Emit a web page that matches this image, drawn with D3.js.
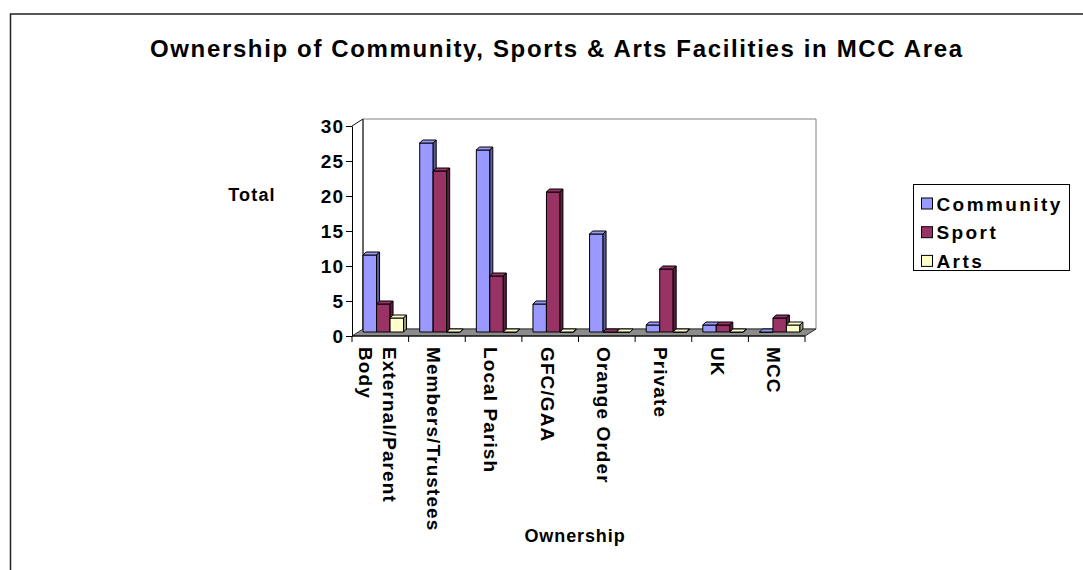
<!DOCTYPE html>
<html>
<head>
<meta charset="utf-8">
<script src="https://cdn.jsdelivr.net/npm/d3@7"></script>
<style>
  body { margin: 0; background: #fff; }
  text { font-family: "Liberation Sans", Arial, sans-serif; font-weight: bold; fill: #000; }
</style>
</head>
<body>
<svg class="js-render-chart" width="1083" height="570"></svg>
<script>
"use strict";

//data

const categories = ["External/Parent Body", "Members/Trustees", "Local Parish", "GFC/GAA", "Orange Order", "Private", "UK", "MCC"];
const series = ["Community", "Sport", "Arts"];
const community = [11, 27, 26, 4, 14, 1, 1, 0];
const sport = [4, 23, 8, 20, 0, 9, 1, 2];
const arts = [2, 0, 0, 0, 0, 0, 0, 1];
const yTicks = [0, 5, 10, 15, 20, 25, 30];

const title = "Ownership of Community, Sports & Arts Facilities in MCC Area";
const xTitle = "Ownership";
const yTitle = "Total";

const colors = ["#9999ff", "#993366", "#ffffcc"];

//layout

const W = 1083, H = 570;
const wall = { dx: 11, dy: -7 };
const shift = { dx: 3, dy: -4 };
const thick = { dx: 3, dy: -3 };

const svg = d3.select(".js-render-chart");

const x = d3.scaleBand().domain(categories).range([352, 805]);
const xs = d3.scaleBand().domain(series).range([0, x.bandwidth()]).paddingOuter(0.6);
const y = d3.scaleLinear().domain([0, 30]).range([336, 126]);

const x0 = x.range()[0], x1 = x.range()[1];
const yb = y(0), yt = y(30);

const pts = (arr) => arr.map((p) => p.join(",")).join(" ");

//outer border

svg.append("rect")
  .attr("x", 10.5).attr("y", 14)
  .attr("width", W).attr("height", H)
  .attr("fill", "none")
  .attr("stroke", "#222")
  .attr("stroke-width", 1.5);

//title

svg.append("text")
  .attr("x", 556).attr("y", 57)
  .attr("text-anchor", "middle")
  .attr("font-size", 24)
  .attr("textLength", 812)
  .attr("lengthAdjust", "spacing")
  .text(title);

//walls and floor

svg.append("polygon")
  .attr("points", pts([[x0 + wall.dx, yt + wall.dy], [x1 + wall.dx, yt + wall.dy], [x1 + wall.dx, yb + wall.dy], [x0 + wall.dx, yb + wall.dy]]))
  .attr("fill", "#fff")
  .attr("stroke", "#808080");

svg.append("polygon")
  .attr("points", pts([[x0, yb], [x1, yb], [x1 + wall.dx, yb + wall.dy], [x0 + wall.dx, yb + wall.dy]]))
  .attr("fill", "#8c8c8c")
  .attr("stroke", "#333");

svg.append("polyline")
  .attr("points", pts([[x0, yt], [x0 + wall.dx, yt + wall.dy], [x0 + wall.dx, yb + wall.dy]]))
  .attr("fill", "none")
  .attr("stroke", "#111");

//bars

const values = [community, sport, arts];
const bars = [];

categories.forEach((c, i) => {
  series.forEach((s, j) => {
    bars.push({
      x: x(c) + xs(s) + shift.dx,
      w: xs.bandwidth(),
      top: y(values[j][i]) + shift.dy,
      base: yb + shift.dy,
      color: colors[j]
    });
  });
});

const bar = svg.append("g")
  .selectAll("g")
  .data(bars)
  .enter()
  .append("g")
  .attr("stroke", "#000")
  .attr("stroke-width", 1)
  .attr("stroke-linejoin", "round");

bar.append("polygon")
  .attr("points", (d) => pts([[d.x, d.top], [d.x + d.w, d.top], [d.x + d.w, d.base], [d.x, d.base]]))
  .attr("fill", (d) => d.color);

bar.append("polygon")
  .attr("points", (d) => pts([[d.x, d.top], [d.x + d.w, d.top], [d.x + d.w + thick.dx, d.top + thick.dy], [d.x + thick.dx, d.top + thick.dy]]))
  .attr("fill", (d) => d.color);

bar.append("polygon")
  .attr("points", (d) => pts([[d.x + d.w, d.top], [d.x + d.w + thick.dx, d.top + thick.dy], [d.x + d.w + thick.dx, d.base + thick.dy], [d.x + d.w, d.base]]))
  .attr("fill", (d) => d3.color(d.color).darker(1.4));

//y axis

const yAxis = svg.append("g")
  .attr("transform", `translate(${x0},0)`)
  .call(d3.axisLeft(y).tickValues(yTicks).tickSize(6).tickSizeOuter(0).tickPadding(2));

yAxis.select(".domain").attr("stroke", "#000");
yAxis.selectAll(".tick line").attr("stroke", "#000");
yAxis.selectAll(".tick text")
  .attr("font-family", "Liberation Sans, Arial, sans-serif")
  .attr("font-size", 19)
  .attr("letter-spacing", 1);

//x axis

svg.append("line")
  .attr("x1", x0).attr("x2", x1)
  .attr("y1", yb).attr("y2", yb)
  .attr("stroke", "#000");

svg.append("g")
  .selectAll("line")
  .data(categories.map((c) => x(c)).concat([x1]))
  .enter()
  .append("line")
  .attr("x1", (d) => d).attr("x2", (d) => d)
  .attr("y1", yb).attr("y2", yb + 6)
  .attr("stroke", "#000");

//category labels

const lineH = 23.5;

const label = svg.append("g")
  .selectAll("g")
  .data(categories)
  .enter()
  .append("g")
  .attr("transform", (d) => `translate(${x(d) + x.bandwidth() / 2 - 3},347) rotate(90)`);

label.each(function (d) {

  const g = d3.select(this);
  const words = d.split(" ");
  const lines = [];
  let cur = "";

  //wrap words greedily

  const probe = g.append("text").attr("font-size", 19).attr("letter-spacing", 1.1);

  words.forEach((w) => {
    const next = cur ? cur + " " + w : w;
    probe.text(next);
    if (cur && probe.node().getComputedTextLength() > 195) {
      lines.push(cur);
      cur = w;
    } else {
      cur = next;
    }
  });
  lines.push(cur);
  probe.remove();

  lines.forEach((t, k) => {
    g.append("text")
      .attr("x", 0)
      .attr("y", (k - (lines.length - 1) / 2) * lineH)
      .attr("dominant-baseline", "central")
      .attr("font-size", 19)
      .attr("letter-spacing", 1.1)
      .text(t);
  });

});

//axis titles

svg.append("text")
  .attr("x", 252).attr("y", 201)
  .attr("text-anchor", "middle")
  .attr("font-size", 18)
  .attr("letter-spacing", 1.2)
  .text(yTitle);

svg.append("text")
  .attr("x", 575).attr("y", 542)
  .attr("text-anchor", "middle")
  .attr("font-size", 18)
  .attr("letter-spacing", 0.9)
  .text(xTitle);

//legend

const legend = svg.append("g").attr("transform", "translate(913.5,184.5)");

legend.append("rect")
  .attr("width", 156).attr("height", 86)
  .attr("fill", "#fff")
  .attr("stroke", "#000");

const item = legend.selectAll(".item")
  .data(series)
  .enter()
  .append("g")
  .attr("class", "item")
  .attr("transform", (d, i) => `translate(8,${19 + i * 28.7})`);

item.append("rect")
  .attr("x", 0).attr("y", -5.5)
  .attr("width", 11).attr("height", 11)
  .attr("fill", (d, i) => colors[i])
  .attr("stroke", "#000");

item.append("text")
  .attr("x", 15).attr("y", 7)
  .attr("font-size", 19)
  .attr("letter-spacing", 2.4)
  .text((d) => d);

</script>
</body>
</html>
